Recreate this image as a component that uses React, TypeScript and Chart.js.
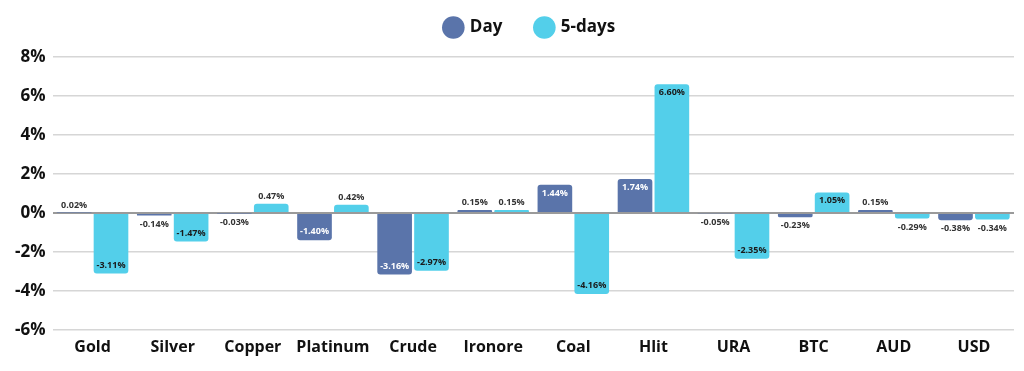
import React, { useEffect, useRef } from "react";
import { Chart, registerables } from "chart.js";

Chart.register(...registerables);

const categories = ["Gold", "Silver", "Copper", "Platinum", "Crude", "Ironore", "Coal", "Hlit", "URA", "BTC", "AUD", "USD"];
const dayValues = [0.02, -0.14, -0.03, -1.4, -3.16, 0.15, 1.44, 1.74, -0.05, -0.23, 0.15, -0.38];
const fiveDayValues = [-3.11, -1.47, 0.47, 0.42, -2.97, 0.15, -4.16, 6.6, -2.35, 1.05, -0.29, -0.34];
const yTicks = [-6, -4, -2, 0, 2, 4, 6, 8];

const DAY_COLOR = "#5A74AA";
const FIVE_COLOR = "#53CFEA";
const FONT = "'Open Sans', 'DejaVu Sans', sans-serif";

const labelPlugin = {
  id: "barLabels",
  beforeInit(chart: any) {
    const legend = chart.legend;
    if (legend) {
      const orig = legend.fit;
      legend.fit = function () {
        orig.call(this);
        this.height += 11;
      };
    }
  },
  afterLayout(chart: any) {
    const legend = chart.legend;
    if (legend && chart.chartArea) {
      legend.left = chart.chartArea.left - 3;
      legend.right = chart.chartArea.right - 3;
    }
  },
  afterDatasetsDraw(chart: any) {
    const ctx = chart.ctx;
    ctx.save();
    ctx.font = `bold 9px ${FONT}`;
    ctx.textAlign = "center";
    chart.data.datasets.forEach((ds: any, di: number) => {
      const meta = chart.getDatasetMeta(di);
      meta.data.forEach((bar: any, i: number) => {
        const v = ds.data[i];
        const text = v.toFixed(2) + "%";
        const h = Math.abs(bar.base - bar.y);
        const inside = h > 18;
        let y: number;
        if (inside) {
          ctx.fillStyle = di === 0 ? "#ffffff" : "#1a1a1a";
          if (v >= 0) {
            ctx.textBaseline = "top";
            y = bar.y + 4;
          } else {
            ctx.textBaseline = "bottom";
            y = bar.y - 4;
          }
        } else {
          ctx.fillStyle = "#333333";
          if (v >= 0) {
            ctx.textBaseline = "bottom";
            y = bar.y - 3;
          } else {
            ctx.textBaseline = "top";
            y = bar.y + 4;
          }
        }
        ctx.fillText(text, bar.x, y);
      });
    });
    ctx.restore();
  },
};

export default function App() {
  const ref = useRef<HTMLCanvasElement>(null);
  useEffect(() => {
    const chart = new Chart(ref.current!, {
      type: "bar",
      data: {
        labels: categories,
        datasets: [
          { label: "Day", data: dayValues, backgroundColor: DAY_COLOR, borderRadius: 3, categoryPercentage: 0.92, barPercentage: 0.94 },
          { label: "5-days", data: fiveDayValues, backgroundColor: FIVE_COLOR, borderRadius: 3, categoryPercentage: 0.92, barPercentage: 0.94 },
        ],
      },
      options: {
        responsive: true,
        maintainAspectRatio: false,
        animation: false,
        layout: { padding: { left: 0, right: 2, top: 0, bottom: 0 } },
        plugins: {
          legend: {
            position: "top",
            labels: {
              usePointStyle: true,
              pointStyle: "circle",
              boxWidth: 16,
              boxHeight: 16,
              padding: 34,
              color: "#111",
              font: { family: FONT, size: 17, weight: "bold" },
            },
          },
          tooltip: { enabled: false },
        },
        scales: {
          x: {
            grid: { display: false },
            border: { display: false },
            ticks: { color: "#111", font: { family: FONT, size: 16, weight: "bold" }, padding: 0 },
          },
          y: {
            min: -6,
            max: 8,
            afterBuildTicks: (axis: any) => {
              axis.ticks = yTicks.map((v) => ({ value: v }));
            },
            border: { display: false },
            grid: {
              drawTicks: false,
              color: (c: any) => (c.tick && c.tick.value === 0 ? "#9a9a9a" : "#d6d6d6"),
              lineWidth: (c: any) => (c.tick && c.tick.value === 0 ? 2 : 1.5),
            },
            ticks: {
              color: "#111",
              padding: 7,
              font: { family: FONT, size: 17, weight: "bold" },
              callback: (v: any) => v + "%",
            },
          },
        },
      },
      plugins: [labelPlugin],
    } as any);
    return () => chart.destroy();
  }, []);
  return (
    <div style={{ width: "100%", height: 372, position: "relative", marginTop: -23 }}>
      <canvas ref={ref} />
    </div>
  );
}
